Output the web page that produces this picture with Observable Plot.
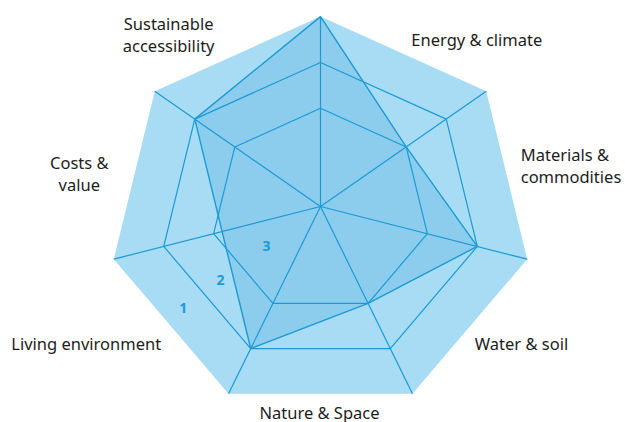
<!DOCTYPE html>
<html><head><meta charset="utf-8">
<script src="https://cdn.jsdelivr.net/npm/d3@7"></script>
<script src="https://cdn.jsdelivr.net/npm/@observablehq/plot@0.6"></script>
<style>
html,body{margin:0;padding:0;background:#fff;}
#chart svg{display:block}
</style>
</head><body><div id="chart"></div>
<script>
// ---- data ----
// sector labels, clockwise, starting with the sector right of the top spoke
const categories = ["Energy & climate", "Materials &\ncommodities", "Water & soil", "Nature & Space", "Living environment", "Costs &\nvalue", "Sustainable\naccessibility"];
// score on each spoke, clockwise from the top spoke
const scores = [3, 1, 2, 1, 2, 0.83, 2];
// ring levels (3 = outer edge)
const ringLevels = [1, 2, 3];
// band labels and where they sit on the radial scale
const bandLabels = ["3", "2", "1"];
const bandLabelValues = [0.31, 1.55, 2.55];

// ---- layout ----
const W = 625, H = 422;
const cx = 320, cy = 214.5, Rx = 212, Ry = 198.4;   // heptagon centre / radii in px
const N = scores.length;
const hub = {x: 0, y: (cy - 206) / Ry};               // where the spokes meet
const frac = d3.scaleLinear().domain([0, 3]).range([0.2755, 1]);
const ang = k => 2 * Math.PI * k / N;
const vertex = k => ({x: Math.sin(ang(k)), y: Math.cos(ang(k))});
const along = (P, v) => { const f = frac(v); return {x: hub.x + f * (P.x - hub.x), y: hub.y + f * (P.y - hub.y)}; };

const LINE = "#1b9ad6", OUTER = "#a7dcf4", INNER = "#8ccdee", TEXT = "#1d1d1b";

const outer = d3.range(N).map(k => along(vertex(k), 3));
const rings = ringLevels.filter(l => l < 3).flatMap(l => d3.range(N).map(k => ({level: l, ...along(vertex(k), l)})));
const spokeLinks = d3.range(N).map(k => ({x1: hub.x, y1: hub.y, x2: vertex(k).x, y2: vertex(k).y}));
const poly = scores.map((v, k) => along(vertex(k), v));

const V4 = vertex(4), V5 = vertex(5);
const bandDir = {x: V4.x + 0.54 * (V5.x - V4.x), y: V4.y + 0.54 * (V5.y - V4.y)};
const bands = bandLabels.map((t, i) => ({text: t, ...along(bandDir, bandLabelValues[i])}));

// label placement: edge midpoint + anchor & pixel nudge
const labelLayout = [
  {anchor: "start", dx: 8, dy: -7.5},
  {anchor: "start", dx: 14, dy: 8},
  {anchor: "start", dx: 5, dy: 24},
  {anchor: "middle", dx: -1, dy: 25},
  {anchor: "end", dx: -10, dy: 24},
  {anchor: "middle", dx: -55, dy: 16},
  {anchor: "middle", dx: -69, dy: -1.5}
];
const labelMarks = categories.map((c, k) => {
  const A = vertex(k), B = vertex((k + 1) % N);
  const m = {x: (A.x + B.x) / 2, y: (A.y + B.y) / 2, text: c};
  const L = labelLayout[k];
  return Plot.text([m], {x: "x", y: "y", text: "text", textAnchor: L.anchor, dx: L.dx, dy: L.dy,
    lineAnchor: "bottom", lineHeight: 1.34, fontSize: 16.5, fill: TEXT, fontFamily: "Noto Sans"});
});

const chart = Plot.plot({
  width: W, height: H,
  marginTop: 0, marginRight: 0, marginBottom: 0, marginLeft: 0,
  x: {domain: [-cx / Rx, (W - cx) / Rx], range: [0, W], axis: null},
  y: {domain: [(cy - H) / Ry, cy / Ry], range: [H, 0], axis: null},
  style: {background: "#fff", fontFamily: "Noto Sans"},
  marks: [
    Plot.line(outer, {x: "x", y: "y", curve: "linear-closed", fill: OUTER, stroke: "none"}),
    Plot.line(poly, {x: "x", y: "y", curve: "linear-closed", fill: INNER, stroke: "none"}),
    Plot.line(rings, {x: "x", y: "y", z: "level", curve: "linear-closed", stroke: LINE, strokeWidth: 1.2, fill: "none"}),
    Plot.link(spokeLinks, {x1: "x1", y1: "y1", x2: "x2", y2: "y2", stroke: LINE, strokeWidth: 1.2}),
    Plot.line(poly, {x: "x", y: "y", curve: "linear-closed", fill: "none", stroke: LINE, strokeWidth: 1.4, strokeLinejoin: "miter"}),
    Plot.text(bands, {x: "x", y: "y", text: "text", fontSize: 14, fontWeight: "bold", fill: LINE, fontFamily: "Noto Sans"}),
    ...labelMarks
  ]
});
document.getElementById("chart").appendChild(chart);
</script>
</body></html>
